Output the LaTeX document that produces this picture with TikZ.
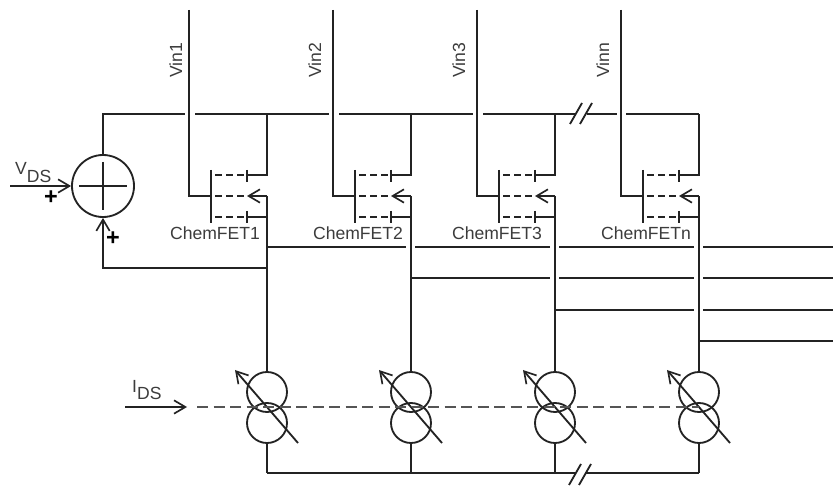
\documentclass[tikz,border=0pt]{standalone}
\usepackage{fontspec}
\setmainfont{Liberation Sans}
\usepackage{tikz}
\usetikzlibrary{arrows.meta}
\definecolor{wire}{RGB}{35, 35, 35}
\definecolor{ctrl}{RGB}{85, 85, 85}
\definecolor{labeltext}{RGB}{60, 60, 60}
\tikzset{
    wireline/.style={wire, line width=0.055cm},
    chanline/.style={wire, line width=0.04cm},
    tiparrow/.style={-{Straight Barb[length=0.34cm,width=0.4cm,line width=0.05cm]}},
    lbl/.style={text=labeltext, font=\fontsize{15}{17}\selectfont, inner sep=0pt},
    plus/.style={text=black, font=\fontsize{20}{20}\bfseries\selectfont, inner sep=0pt},
    srcring/.style={draw=wire, line width=0.055cm, circle, minimum size=1.2cm, inner sep=0pt}
}

\begin{document}
\begin{tikzpicture}[x=0.03cm, y=-0.03cm]
    \useasboundingbox[fill=white] (0,0) rectangle (833,486);

    % Summing junction
    \node[draw=wire, line width=0.055cm, circle, minimum size=1.86cm, inner sep=0pt] (sum) at (103,186) {};
    \coordinate (sumL) at (79,186);
    \coordinate (sumR) at (127,186);
    \coordinate (sumT) at (103,162);
    \coordinate (sumB) at (103,210);
    \draw[wireline] (sumL) -- (sumR);
    \draw[wireline] (sumT) -- (sumB);

    \coordinate (vdsin) at (10,186);
    \draw[wireline, tiparrow] (vdsin) -- (sum.west);
    \node[lbl, anchor=base west] (vds) at (15,175) {V\raisebox{-0.24cm}{DS}};
    \node[plus] (plusA) at (51,198) {+};
    \node[plus] (plusB) at (113,239) {+};

    % Supply rail
    \coordinate (railL) at (103,114);
    \coordinate (railBk1) at (575,114);
    \coordinate (railBk2) at (587,114);
    \coordinate (breakA1) at (570,124);
    \coordinate (breakA2) at (582,103);
    \coordinate (breakB1) at (580,124);
    \coordinate (breakB2) at (592,103);
    \draw[wireline] (sum.north) -- (railL) -- (185,114);
    \draw[wireline] (breakA1) -- (breakA2);
    \draw[wireline] (breakB1) -- (breakB2);

    % ChemFET columns
    \foreach \i/\xd/\name/\vname/\vx/\fx in {1/267/ChemFET1/Vin1/7/52, 2/411/ChemFET2/Vin2/12/53, 3/555/ChemFET3/Vin3/12/58, 4/699/ChemFETn/Vinn/12/53} {
        \coordinate (top\i) at (\xd-78,10);
        \coordinate (gate\i) at (\xd-78,196);
        \coordinate (bar\i) at (\xd-56,196);
        \coordinate (drain\i) at (\xd,114);
        \coordinate (drainB\i) at (\xd,175);
        \coordinate (src\i) at (\xd,196);
        \coordinate (srcB\i) at (\xd,217);
        \coordinate (tip\i) at (\xd-20,196);
        \coordinate (out\i) at (\xd,372);

        % gate
        \draw[wireline] (top\i) -- (gate\i) -- (bar\i);
        \draw[wireline] (\xd-56,170) -- (\xd-56,223);
        % channel
        \foreach \yc in {175,196,217} {
            \draw[chanline, dash pattern=on 0.21cm off 0.12cm] (\xd-52,\yc) -- (\xd-23,\yc);
        }
        \draw[wireline] (\xd-20,170) -- (\xd-20,182);
        \draw[wireline] (\xd-20,211) -- (\xd-20,223);
        \draw[wireline] (drain\i) -- (drainB\i) -- (\xd-20,175);
        \draw[wireline] (srcB\i) -- (\xd-20,217);
        \draw[wireline, tiparrow] (src\i) -- (tip\i);
        \draw[wireline] (src\i) -- (out\i);
        % labels
        \node[lbl, rotate=90, anchor=base] (vin\i) at (\xd-78-\vx,60) {\vname};
        \node[lbl, anchor=base] (fet\i) at (\xd-\fx,240) {\name};

        % current source
        \node[srcring] (srcA\i) at (\xd,392) {};
        \node[srcring] (srcC\i) at (\xd,423) {};
        \coordinate (slashA\i) at (\xd+31,443);
        \coordinate (slashB\i) at (\xd-32,370);
        \draw[wireline, tiparrow] (slashA\i) -- (slashB\i);
        \coordinate (low\i) at (\xd,473);
        \draw[wireline] (srcC\i.south) -- (low\i);
    }

    % rail segments with gaps at the gate lines
    \draw[wireline] (195,114) -- (329,114);
    \draw[wireline] (339,114) -- (473,114);
    \draw[wireline] (483,114) -- (railBk1);
    \draw[wireline] (railBk2) -- (617,114);
    \draw[wireline] (626,114) -- (drain4);

    % feedback
    \coordinate (fbk) at (267,268);
    \coordinate (fbkL) at (103,268);
    \draw[wireline, tiparrow] (fbk) -- (fbkL) -- (sum.south);

    % outputs with gaps at the crossing columns
    \draw[wireline] (267,247) -- (406,247) (415,247) -- (550,247) (559,247) -- (694,247) (703,247) -- (833,247);
    \draw[wireline] (411,278) -- (550,278) (559,278) -- (694,278) (703,278) -- (833,278);
    \draw[wireline] (555,310) -- (694,310) (703,310) -- (833,310);
    \draw[wireline] (699,341) -- (833,341);

    % Control line
    \coordinate (idsin) at (125,407);
    \coordinate (idstip) at (187,407);
    \coordinate (idsend) at (699,407);
    \draw[wireline, tiparrow] (idsin) -- (idstip);
    \draw[ctrl, line width=0.05cm, dash pattern=on 0.33cm off 0.165cm] (197,407) -- (idsend);
    \node[lbl, anchor=base west] (ids) at (132,393) {I\raisebox{-0.2cm}{DS}};

    % Lower rail
    \coordinate (lowBk1) at (575,473);
    \coordinate (lowBk2) at (586,473);
    \draw[wireline] (low1) -- (lowBk1);
    \draw[wireline] (lowBk2) -- (low4);
    \coordinate (lowA1) at (569,485);
    \coordinate (lowA2) at (581,464);
    \coordinate (lowB1) at (579,485);
    \coordinate (lowB2) at (591,464);
    \draw[wireline] (lowA1) -- (lowA2);
    \draw[wireline] (lowB1) -- (lowB2);
\end{tikzpicture}
\end{document}
